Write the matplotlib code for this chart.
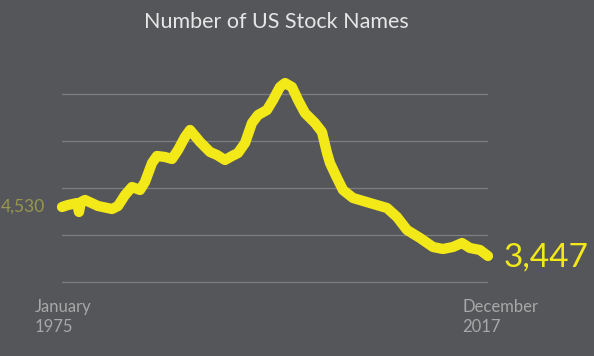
import matplotlib
matplotlib.use('Agg')
import matplotlib.pyplot as plt

# 数据：年份（小数年）与美股上市公司数量
YEARS = [1975.00, 1975.60, 1976.51, 1976.71, 1976.91, 1977.32, 1978.63, 1980.04,
         1980.64, 1981.35, 1982.05, 1982.86, 1983.36, 1984.07, 1984.57, 1985.38,
         1986.08, 1986.69, 1987.39, 1987.90, 1988.91, 1989.91, 1990.62, 1991.42,
         1992.13, 1992.73, 1993.44, 1994.14, 1994.75, 1995.65, 1996.26, 1996.96,
         1997.47, 1998.17, 1998.78, 1999.48, 2000.49, 2001.19, 2001.70, 2002.00,
         2002.71, 2003.31, 2004.32, 2006.03, 2007.74, 2008.75, 2009.76, 2011.07,
         2012.38, 2013.38, 2014.39, 2015.30, 2016.10, 2017.11, 2017.92]
COUNTS = [4530, 4574, 4618, 4420, 4640, 4685, 4552, 4486,
          4552, 4795, 4972, 4906, 5083, 5502, 5657, 5635,
          5591, 5790, 6077, 6232, 5967, 5746, 5679, 5569,
          5657, 5723, 5944, 6386, 6563, 6674, 6895, 7182,
          7270, 7182, 6895, 6607, 6386, 6188, 5723, 5502,
          5171, 4906, 4729, 4618, 4508, 4309, 4022, 3845,
          3646, 3602, 3646, 3734, 3624, 3580, 3447]
GRID_VALUES = [2873, 3911, 4950, 5989, 7027]

TITLE = "Number of US Stock Names"
START_LABEL = "January\n1975"
END_LABEL = "December\n2017"

BG = '#55565a'
YELLOW = '#f3e818'

plt.rcParams['font.family'] = ['Lato', 'DejaVu Sans']

W, H = 594, 356
fig = plt.figure(figsize=(W / 100, H / 100), dpi=100, facecolor=BG)

# 坐标轴区域：像素 x 62..488, y 60..290
ax = fig.add_axes([62 / W, 1 - 290 / H, 426 / W, 230 / H])
ax.set_facecolor(BG)
ax.set_xlim(1975.0, 2017.92)
ax.set_ylim(4530 - 83 * 22.1, 4530 + 147 * 22.1)
for spine in ax.spines.values():
    spine.set_visible(False)
ax.set_xticks([])
ax.set_yticks([])

for g in GRID_VALUES:
    ax.axhline(g, color='#7d7e81', linewidth=0.9, zorder=1)

ax.plot(YEARS, COUNTS, color=YELLOW, linewidth=7.4, solid_capstyle='round',
        solid_joinstyle='round', clip_on=False, zorder=3)

fig.text(276 / W, 1 - 22 / H, TITLE, ha='center', va='center',
         fontsize=15.5, color='#e6e6e6')

fig.text(45 / W, 1 - 207 / H, f"{COUNTS[0]:,}", ha='right', va='center',
         fontsize=12.5, color='#9a9750')
fig.text(504 / W, 1 - 258 / H, f"{COUNTS[-1]:,}", ha='left', va='center',
         fontsize=24, color=YELLOW)

fig.text(35 / W, 1 - 317 / H, START_LABEL, ha='left', va='center',
         fontsize=12, color='#a8a8a8', linespacing=1.25)
fig.text(462 / W, 1 - 317 / H, END_LABEL, ha='left', va='center',
         fontsize=12, color='#a8a8a8', linespacing=1.25)

fig.savefig('out.png', dpi=100, facecolor=BG)
